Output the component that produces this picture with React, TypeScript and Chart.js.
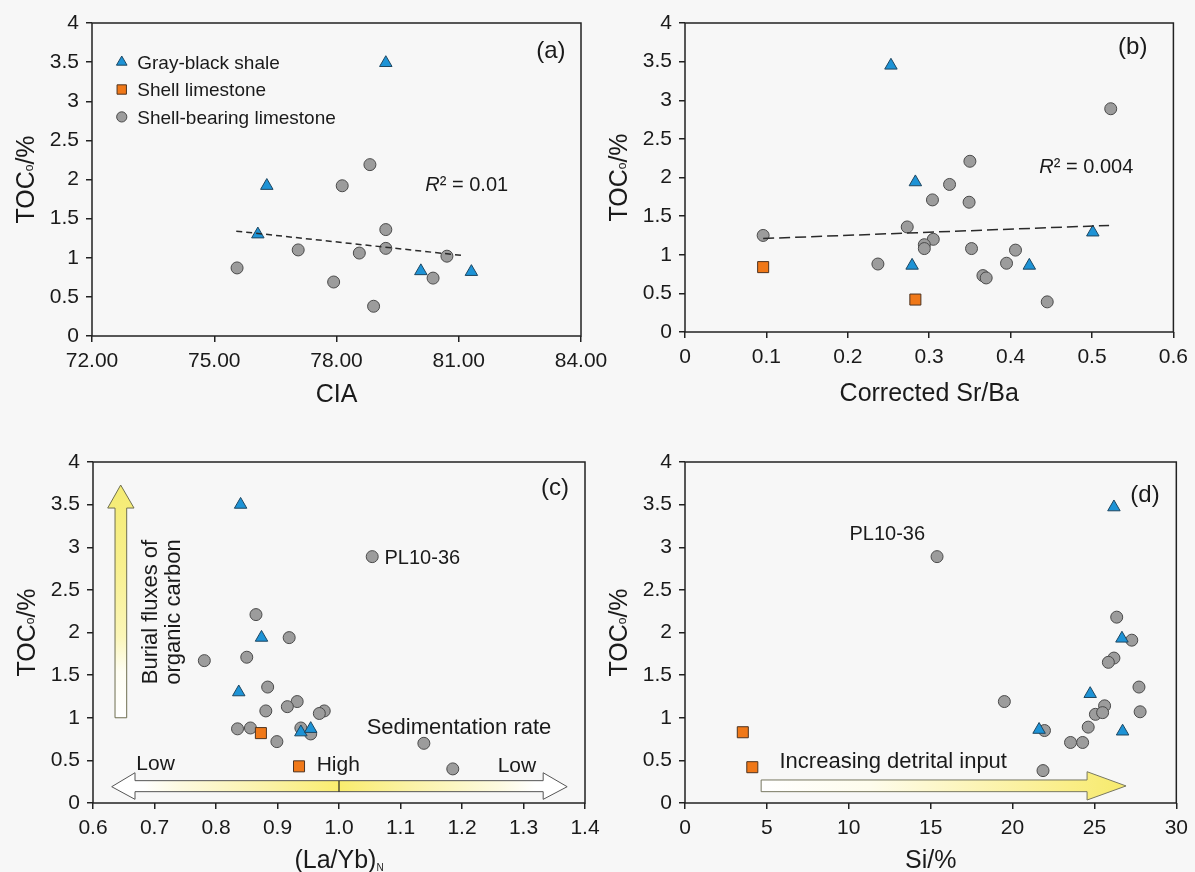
import React, { useEffect, useRef } from 'react';
import { Chart, registerables } from 'chart.js';

Chart.register(...registerables);

const W = 1195;
const H = 872;
const FONT = '"Liberation Sans", Arial, Helvetica, sans-serif';
const INK = '#1a1a1a';

// ---------------- tick values / labels ----------------
const tocTicks = [0, 0.5, 1, 1.5, 2, 2.5, 3, 3.5, 4];
const tocTickLabels = ['0', '0.5', '1', '1.5', '2', '2.5', '3', '3.5', '4'];
const ciaTicks = [72, 75, 78, 81, 84];
const ciaTickLabels = ['72.00', '75.00', '78.00', '81.00', '84.00'];
const srBaTicks = [0, 0.1, 0.2, 0.3, 0.4, 0.5, 0.6];
const srBaTickLabels = ['0', '0.1', '0.2', '0.3', '0.4', '0.5', '0.6'];
const laYbTicks = [0.6, 0.7, 0.8, 0.9, 1.0, 1.1, 1.2, 1.3, 1.4];
const laYbTickLabels = ['0.6', '0.7', '0.8', '0.9', '1.0', '1.1', '1.2', '1.3', '1.4'];
const siTicks = [0, 5, 10, 15, 20, 25, 30];
const siTickLabels = ['0', '5', '10', '15', '20', '25', '30'];

const seriesNames = ['Gray-black shale', 'Shell limestone', 'Shell-bearing limestone'];

// ---------------- panel (a): CIA ----------------
const ciaShale = [79.21, 76.29, 76.07, 80.07, 81.31];
const tocShaleA = [3.49, 1.92, 1.3, 0.83, 0.82];
const ciaBearing = [78.82, 78.14, 79.21, 77.06, 78.56, 79.21, 80.71, 75.56, 77.93, 80.37, 78.91];
const tocBearingA = [2.19, 1.92, 1.36, 1.1, 1.06, 1.12, 1.02, 0.87, 0.69, 0.74, 0.38];
const ciaTrendX = [75.54, 81.07];
const ciaTrendY = [1.34, 1.03];

// ---------------- panel (b): corrected Sr/Ba ----------------
const srBaShale = [0.253, 0.283, 0.279, 0.423, 0.501];
const tocShaleB = [3.45, 1.94, 0.86, 0.86, 1.29];
const srBaShell = [0.096, 0.283];
const tocShellB = [0.84, 0.42];
const srBaBearing = [0.523, 0.35, 0.325, 0.304, 0.349, 0.273, 0.096, 0.305, 0.294, 0.294, 0.352, 0.406, 0.237, 0.395, 0.366, 0.37, 0.445];
const tocBearingB = [2.89, 2.21, 1.91, 1.71, 1.68, 1.36, 1.25, 1.2, 1.13, 1.08, 1.08, 1.06, 0.88, 0.89, 0.73, 0.7, 0.39];
const srBaTrendX = [0.096, 0.521];
const srBaTrendY = [1.21, 1.38];

// ---------------- panel (c): (La/Yb)N ----------------
const laYbShale = [0.84, 0.874, 0.837, 0.938, 0.954];
const tocShaleC = [3.5, 1.94, 1.3, 0.83, 0.87];
const laYbShell = [0.873, 0.935];
const tocShellC = [0.82, 0.43];
const laYbBearing = [1.054, 0.865, 0.919, 0.781, 0.85, 0.884, 0.932, 0.916, 0.881, 0.976, 0.968, 0.835, 0.856, 0.938, 0.954, 0.899, 1.138, 1.185];
const tocBearingC = [2.89, 2.21, 1.94, 1.67, 1.71, 1.36, 1.19, 1.13, 1.08, 1.08, 1.05, 0.87, 0.88, 0.88, 0.81, 0.72, 0.7, 0.4];

// ---------------- panel (d): Si ----------------
const siShale = [26.19, 26.68, 24.74, 21.62, 26.72];
const tocShaleD = [3.47, 1.93, 1.28, 0.86, 0.84];
const siShell = [3.53, 4.11];
const tocShellD = [0.83, 0.42];
const siBearing = [15.39, 26.36, 27.28, 26.19, 25.85, 27.72, 19.5, 25.62, 25.06, 25.5, 27.79, 21.95, 24.62, 23.54, 24.28, 21.86];
const tocBearingD = [2.89, 2.18, 1.91, 1.7, 1.65, 1.36, 1.19, 1.14, 1.04, 1.06, 1.07, 0.85, 0.89, 0.71, 0.71, 0.38];

// ---------------- styles ----------------
type MStyle = { pointStyle: string; radius: number; fill: string; stroke: string };
const SHALE: MStyle = { pointStyle: 'triangle', radius: 7.2, fill: '#1d93d6', stroke: '#1e4660' };
const SHELL: MStyle = { pointStyle: 'rect', radius: 7.8, fill: '#f07818', stroke: '#4d3320' };
const BEARING: MStyle = { pointStyle: 'circle', radius: 6, fill: '#9c9c9c', stroke: '#4a4a4a' };

type Seg = { t: string; size: number; italic?: boolean; dy?: number };
type TextItem = { x: number; y: number; segs: Seg[]; align: 'left' | 'center'; rotate?: boolean };
type Arrow = {
  points: [number, number][];
  dir: 'h' | 'v';
  span: [number, number];
  stops: [number, string][];
  stroke: string;
  divider?: { x: number; y0: number; y1: number };
};
type Panel = {
  area: { left: number; right: number; top: number; bottom: number };
  xMin: number;
  xMax: number;
  xTicks: number[];
  xLabels: string[];
  datasets: any[];
  xTitle: Seg[];
  xTitleDy: number;
  yTitle: Seg[];
  texts: TextItem[];
  arrows?: Arrow[];
  legend?: { x: number; textX: number; ys: number[]; size: number };
};

const pts = (xs: number[], ys: number[]) => xs.map((x, i) => ({ x, y: ys[i] }));

function markerSet(label: string, xs: number[], ys: number[], st: MStyle) {
  return {
    label,
    data: pts(xs, ys),
    pointStyle: st.pointStyle,
    pointRadius: st.radius,
    pointHoverRadius: st.radius,
    pointBackgroundColor: st.fill,
    pointBorderColor: st.stroke,
    pointBorderWidth: 1,
    backgroundColor: st.fill,
    borderColor: st.stroke,
    showLine: false,
  };
}

function trendSet(xs: number[], ys: number[], dash: number[]) {
  return {
    label: 'trend',
    data: pts(xs, ys),
    showLine: true,
    borderColor: '#2a2a2a',
    borderWidth: 1.5,
    borderDash: dash,
    pointRadius: 0,
    pointHoverRadius: 0,
    fill: false,
  };
}

const segFont = (s: Seg) => `${s.italic ? 'italic ' : ''}${s.size}px ${FONT}`;

function drawRich(ctx: CanvasRenderingContext2D, segs: Seg[], x: number, yCap: number, align: 'left' | 'center') {
  const base = segs[0].size * 0.358;
  const widths = segs.map((s) => {
    ctx.font = segFont(s);
    return ctx.measureText(s.t).width;
  });
  const total = widths.reduce((a, b) => a + b, 0);
  let cx = align === 'center' ? x - total / 2 : x;
  ctx.textAlign = 'left';
  ctx.textBaseline = 'alphabetic';
  ctx.fillStyle = INK;
  segs.forEach((s, i) => {
    ctx.font = segFont(s);
    ctx.fillText(s.t, cx, yCap + base + (s.dy || 0));
    cx += widths[i];
  });
}

function drawMarker(ctx: CanvasRenderingContext2D, st: MStyle, x: number, y: number) {
  const r = st.radius;
  ctx.beginPath();
  if (st.pointStyle === 'triangle') {
    ctx.moveTo(x, y - r);
    ctx.lineTo(x + r * 0.866, y + r * 0.5);
    ctx.lineTo(x - r * 0.866, y + r * 0.5);
    ctx.closePath();
  } else if (st.pointStyle === 'rect') {
    const h = r * Math.SQRT1_2;
    ctx.rect(x - h, y - h, 2 * h, 2 * h);
  } else {
    ctx.arc(x, y, r, 0, Math.PI * 2);
  }
  ctx.fillStyle = st.fill;
  ctx.fill();
  ctx.lineWidth = 1;
  ctx.strokeStyle = st.stroke;
  ctx.stroke();
}

function makeDecor(p: Panel) {
  return {
    id: 'decor',
    beforeDatasetsDraw(chart: any) {
      const ctx: CanvasRenderingContext2D = chart.ctx;
      const X = (v: number) => chart.scales.x.getPixelForValue(v);
      const Y = (v: number) => chart.scales.y.getPixelForValue(v);
      for (const a of p.arrows || []) {
        ctx.save();
        const grad =
          a.dir === 'h'
            ? ctx.createLinearGradient(X(a.span[0]), 0, X(a.span[1]), 0)
            : ctx.createLinearGradient(0, Y(a.span[0]), 0, Y(a.span[1]));
        a.stops.forEach(([o, c]) => grad.addColorStop(o, c));
        ctx.beginPath();
        a.points.forEach(([x, y], i) => (i ? ctx.lineTo(X(x), Y(y)) : ctx.moveTo(X(x), Y(y))));
        ctx.closePath();
        ctx.fillStyle = grad;
        ctx.fill();
        ctx.lineWidth = 1;
        ctx.strokeStyle = a.stroke;
        ctx.stroke();
        if (a.divider) {
          ctx.beginPath();
          ctx.moveTo(X(a.divider.x), Y(a.divider.y0));
          ctx.lineTo(X(a.divider.x), Y(a.divider.y1));
          ctx.strokeStyle = '#222';
          ctx.lineWidth = 1.2;
          ctx.stroke();
        }
        ctx.restore();
      }
    },
    afterDatasetsDraw(chart: any) {
      const ctx: CanvasRenderingContext2D = chart.ctx;
      const ca = chart.chartArea;
      const X = (v: number) => chart.scales.x.getPixelForValue(v);
      const Y = (v: number) => chart.scales.y.getPixelForValue(v);
      ctx.save();
      // frame
      ctx.strokeStyle = '#222';
      ctx.lineWidth = 1.5;
      ctx.strokeRect(ca.left, ca.top, ca.right - ca.left, ca.bottom - ca.top);
      // texts
      for (const t of p.texts) {
        if (t.rotate) {
          ctx.save();
          ctx.translate(X(t.x), Y(t.y));
          ctx.rotate(-Math.PI / 2);
          drawRich(ctx, t.segs, 0, 0, t.align);
          ctx.restore();
        } else {
          drawRich(ctx, t.segs, X(t.x), Y(t.y), t.align);
        }
      }
      // legend
      if (p.legend) {
        const lg = p.legend;
        [SHALE, SHELL, BEARING].forEach((st, i) => {
          drawMarker(ctx, { ...st, radius: st.radius * 0.85 }, X(lg.x), Y(lg.ys[i]));
          drawRich(ctx, [{ t: seriesNames[i], size: lg.size }], X(lg.textX), Y(lg.ys[i]), 'left');
        });
      }
      // axis titles
      drawRich(ctx, p.xTitle, (ca.left + ca.right) / 2, ca.bottom + p.xTitleDy, 'center');
      ctx.save();
      ctx.translate(ca.left - 67, (ca.top + ca.bottom) / 2);
      ctx.rotate(-Math.PI / 2);
      drawRich(ctx, p.yTitle, 0, 0, 'center');
      ctx.restore();
      ctx.restore();
    },
  };
}

const tickFont = { family: FONT, size: 21 };
const tickGrid = { display: true, drawOnChartArea: false, drawTicks: true, tickLength: 6, color: '#222', lineWidth: 1.5 };

function buildConfig(p: Panel): any {
  return {
    type: 'scatter',
    data: { datasets: p.datasets },
    options: {
      animation: false,
      responsive: false,
      devicePixelRatio: 1,
      events: [],
      layout: { padding: { left: 0, top: p.area.top, right: W - p.area.right, bottom: 0 } },
      plugins: { legend: { display: false }, tooltip: { enabled: false } },
      scales: {
        x: {
          type: 'linear',
          min: p.xMin,
          max: p.xMax,
          afterBuildTicks: (s: any) => {
            s.ticks = p.xTicks.map((v) => ({ value: v }));
          },
          afterFit: (s: any) => {
            s.height = H - p.area.bottom;
          },
          ticks: {
            callback: (_v: any, i: number) => p.xLabels[i],
            font: tickFont,
            color: INK,
            padding: 7,
            maxRotation: 0,
            autoSkip: false,
          },
          grid: tickGrid,
          border: { display: false },
        },
        y: {
          type: 'linear',
          min: 0,
          max: 4,
          afterBuildTicks: (s: any) => {
            s.ticks = tocTicks.map((v) => ({ value: v }));
          },
          afterFit: (s: any) => {
            s.width = p.area.left;
          },
          ticks: {
            callback: (_v: any, i: number) => tocTickLabels[i],
            font: tickFont,
            color: INK,
            padding: 7,
            autoSkip: false,
          },
          grid: tickGrid,
          border: { display: false },
        },
      },
    },
    plugins: [makeDecor(p)],
  };
}

const tocTitle: Seg[] = [
  { t: 'TOC', size: 25 },
  { t: 'o', size: 12, dy: -1 },
  { t: '/%', size: 25 },
];

const yellowV: [number, string][] = [
  [0, '#ffffff'],
  [0.2, '#fefdf2'],
  [0.35, '#fbf6b8'],
  [0.65, '#f8f08e'],
  [1, '#f4eb72'],
];
const yellowH2: [number, string][] = [
  [0, '#ffffff'],
  [0.07, '#ffffff'],
  [0.15, '#fdfae0'],
  [0.35, '#fbf2a4'],
  [0.5, '#faed6e'],
  [0.65, '#fbf2a4'],
  [0.85, '#fdfae0'],
  [0.93, '#ffffff'],
  [1, '#ffffff'],
];
const yellowH1: [number, string][] = [
  [0, '#ffffff'],
  [0.3, '#fefcec'],
  [0.6, '#fcf4b4'],
  [0.85, '#faee86'],
  [1, '#f6ea6c'],
];

const panels: Panel[] = [
  {
    area: { left: 92, right: 581, top: 23, bottom: 336 },
    xMin: 72,
    xMax: 84,
    xTicks: ciaTicks,
    xLabels: ciaTickLabels,
    datasets: [
      trendSet(ciaTrendX, ciaTrendY, [6, 4]),
      markerSet(seriesNames[0], ciaShale, tocShaleA, SHALE),
      markerSet(seriesNames[2], ciaBearing, tocBearingA, BEARING),
    ],
    xTitle: [{ t: 'CIA', size: 25 }],
    xTitleDy: 57,
    yTitle: tocTitle,
    texts: [
      { x: 82.9, y: 3.66, segs: [{ t: '(a)', size: 24 }], align: 'left' },
      { x: 80.18, y: 1.95, segs: [{ t: 'R', size: 20, italic: true }, { t: '² = 0.01', size: 20 }], align: 'left' },
    ],
    legend: { x: 72.73, textX: 73.11, ys: [3.5, 3.15, 2.8], size: 19 },
  },
  {
    area: { left: 685, right: 1178, top: 23, bottom: 332 },
    xMin: 0,
    xMax: 0.6,
    xTicks: srBaTicks,
    xLabels: srBaTickLabels,
    datasets: [
      trendSet(srBaTrendX, srBaTrendY, [11, 5]),
      markerSet(seriesNames[0], srBaShale, tocShaleB, SHALE),
      markerSet(seriesNames[1], srBaShell, tocShellB, SHELL),
      markerSet(seriesNames[2], srBaBearing, tocBearingB, BEARING),
    ],
    xTitle: [{ t: 'Corrected Sr/Ba', size: 25 }],
    xTitleDy: 60,
    yTitle: tocTitle,
    texts: [
      { x: 0.532, y: 3.71, segs: [{ t: '(b)', size: 24 }], align: 'left' },
      { x: 0.4353, y: 2.15, segs: [{ t: 'R', size: 20, italic: true }, { t: '² = 0.004', size: 20 }], align: 'left' },
    ],
  },
  {
    area: { left: 93, right: 585, top: 462, bottom: 803 },
    xMin: 0.6,
    xMax: 1.4,
    xTicks: laYbTicks,
    xLabels: laYbTickLabels,
    datasets: [
      markerSet(seriesNames[0], laYbShale, tocShaleC, SHALE),
      markerSet(seriesNames[1], laYbShell, tocShellC, SHELL),
      markerSet(seriesNames[2], laYbBearing, tocBearingC, BEARING),
    ],
    xTitle: [
      { t: '(La/Yb)', size: 25 },
      { t: 'N', size: 10, dy: 3 },
    ],
    xTitleDy: 56,
    yTitle: tocTitle,
    texts: [
      { x: 1.3286, y: 3.715, segs: [{ t: '(c)', size: 24 }], align: 'left' },
      { x: 1.074, y: 2.89, segs: [{ t: 'PL10-36', size: 20 }], align: 'left' },
      { x: 1.045, y: 0.9, segs: [{ t: 'Sedimentation rate', size: 22 }], align: 'left' },
      { x: 0.6705, y: 0.47, segs: [{ t: 'Low', size: 21 }], align: 'left' },
      { x: 0.9637, y: 0.46, segs: [{ t: 'High', size: 21 }], align: 'left' },
      { x: 1.258, y: 0.45, segs: [{ t: 'Low', size: 21 }], align: 'left' },
      { x: 0.6912, y: 2.24, segs: [{ t: 'Burial fluxes of', size: 22 }], align: 'center', rotate: true },
      { x: 0.7294, y: 2.24, segs: [{ t: 'organic carbon', size: 22 }], align: 'center', rotate: true },
    ],
    arrows: [
      {
        points: [
          [0.645, 3.73],
          [0.6667, 3.46],
          [0.6548, 3.46],
          [0.6548, 1.0],
          [0.6358, 1.0],
          [0.6358, 3.46],
          [0.6239, 3.46],
        ],
        dir: 'v',
        span: [1.0, 3.73],
        stops: yellowV,
        stroke: '#6e6e50',
      },
      {
        points: [
          [0.6304, 0.191],
          [0.6683, 0.355],
          [0.6683, 0.262],
          [1.332, 0.262],
          [1.332, 0.355],
          [1.371, 0.191],
          [1.332, 0.043],
          [1.332, 0.133],
          [0.6683, 0.133],
          [0.6683, 0.043],
        ],
        dir: 'h',
        span: [0.6304, 1.371],
        stops: yellowH2,
        stroke: '#555555',
        divider: { x: 1.0, y0: 0.262, y1: 0.133 },
      },
    ],
  },
  {
    area: { left: 685, right: 1179, top: 462, bottom: 803 },
    xMin: 0,
    xMax: 30,
    xTicks: siTicks,
    xLabels: siTickLabels,
    datasets: [
      markerSet(seriesNames[0], siShale, tocShaleD, SHALE),
      markerSet(seriesNames[1], siShell, tocShellD, SHELL),
      markerSet(seriesNames[2], siBearing, tocBearingD, BEARING),
    ],
    xTitle: [{ t: 'Si/%', size: 25 }],
    xTitleDy: 56,
    yTitle: tocTitle,
    texts: [
      { x: 27.19, y: 3.63, segs: [{ t: '(d)', size: 24 }], align: 'left' },
      { x: 10.04, y: 3.17, segs: [{ t: 'PL10-36', size: 20 }], align: 'left' },
      { x: 5.77, y: 0.5, segs: [{ t: 'Increasing detrital input', size: 22 }], align: 'left' },
    ],
    arrows: [
      {
        points: [
          [4.65, 0.27],
          [24.55, 0.27],
          [24.55, 0.367],
          [26.93, 0.2],
          [24.55, 0.035],
          [24.55, 0.133],
          [4.65, 0.133],
        ],
        dir: 'h',
        span: [4.65, 26.93],
        stops: yellowH1,
        stroke: '#777760',
      },
    ],
  },
];

export default function App() {
  const refs = [useRef<HTMLCanvasElement>(null), useRef<HTMLCanvasElement>(null), useRef<HTMLCanvasElement>(null), useRef<HTMLCanvasElement>(null)];
  useEffect(() => {
    const charts = panels.map((p, i) => new Chart(refs[i].current as HTMLCanvasElement, buildConfig(p)));
    return () => charts.forEach((c) => c.destroy());
  }, []);
  return (
    <div style={{ position: 'absolute', left: 0, top: 0, width: W, height: H, background: '#f7f7f7', overflow: 'hidden' }}>
      {refs.map((r, i) => (
        <canvas key={i} ref={r} width={W} height={H} style={{ position: 'absolute', left: 0, top: 0, width: W, height: H }} />
      ))}
    </div>
  );
}
